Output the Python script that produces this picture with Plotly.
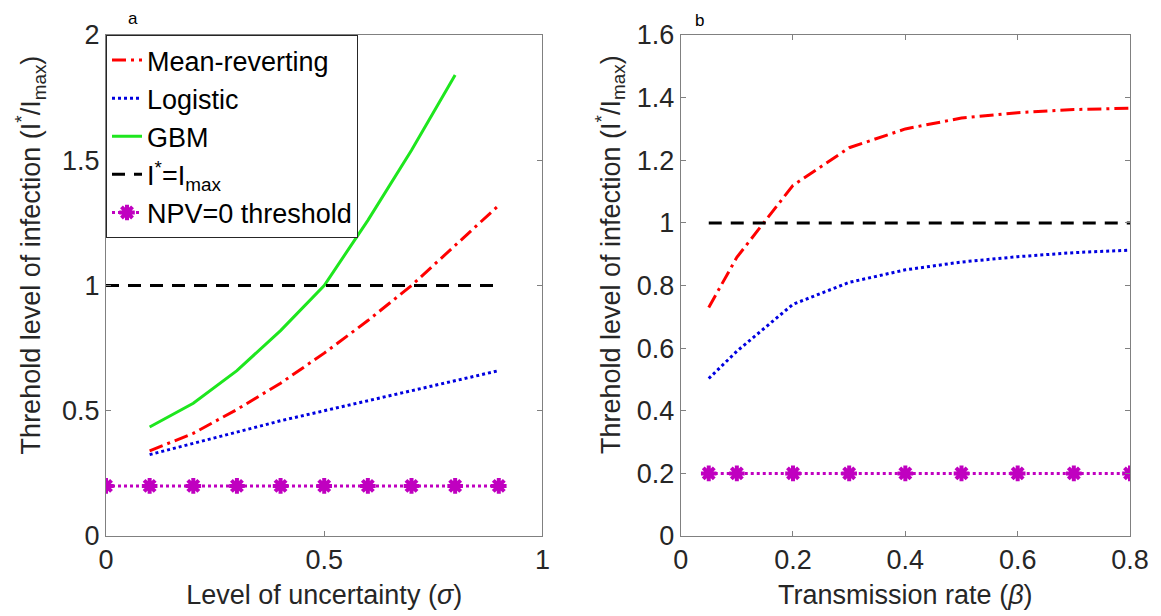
import plotly.graph_objects as go

# ---- data: panel a ----
sigma = [0.1, 0.2, 0.3, 0.4, 0.5, 0.6, 0.7, 0.8, 0.9]
mr_a = [0.34, 0.41, 0.505, 0.61, 0.73, 0.86, 1.0, 1.16, 1.32]
log_a = [0.325, 0.37, 0.415, 0.46, 0.50, 0.54, 0.58, 0.62, 0.66]
sigma_gbm = [0.1, 0.2, 0.3, 0.4, 0.5, 0.6, 0.7, 0.8]
gbm_a = [0.435, 0.53, 0.66, 0.82, 1.0, 1.26, 1.54, 1.84]
sigma_ref = [0, 0.1, 0.2, 0.3, 0.4, 0.5, 0.6, 0.7, 0.8, 0.9]
imax_a = [1] * len(sigma_ref)
npv_a = [0.2] * len(sigma_ref)

# ---- data: panel b ----
beta = [0.05, 0.1, 0.2, 0.3, 0.4, 0.5, 0.6, 0.7, 0.8]
mr_b = [0.73, 0.89, 1.12, 1.24, 1.30, 1.335, 1.352, 1.362, 1.366]
log_b = [0.503, 0.59, 0.74, 0.81, 0.85, 0.875, 0.892, 0.905, 0.913]
imax_b = [1] * len(beta)
npv_b = [0.2] * len(beta)

RED = "#FF0000"
BLUE = "#0000E0"
GREEN = "#1EE61E"
MAG = "#C000C0"
FONT = "Liberation Sans, Arial, sans-serif"
TXT = "#262626"

fig = go.Figure()

def add(x, y, name, color, dash, xa, ya, show, marker=False):
    if marker:
        kw = dict(mode="lines+markers",
                  marker=dict(symbol="asterisk-open", size=13, color=MAG,
                              line=dict(color=MAG, width=4)))
    else:
        kw = dict(mode="lines")
    fig.add_trace(go.Scatter(x=x, y=y, name=name, xaxis=xa, yaxis=ya,
                             line=dict(color=color, width=3, dash=dash),
                             showlegend=show, **kw))

# panel a
add(sigma, mr_a, "Mean-reverting", RED, "14px,5px,3px,5px", "x", "y", True)
add(sigma, log_a, "Logistic", BLUE, "3px,3px", "x", "y", True)
add(sigma_gbm, gbm_a, "GBM", GREEN, "solid", "x", "y", True)
add(sigma_ref, imax_a, "I<sup>*</sup>=I<sub>max</sub>", "black", "13px,9px", "x", "y", True)
add(sigma_ref, npv_a, "NPV=0 threshold", MAG, "3px,3px", "x", "y", True, marker=True)

# panel b
add(beta, mr_b, "Mean-reverting", RED, "14px,5px,3px,5px", "x2", "y2", False)
add(beta, log_b, "Logistic", BLUE, "3px,3px", "x2", "y2", False)
add(beta, imax_b, "I*=Imax", "black", "13px,9px", "x2", "y2", False)
add(beta, npv_b, "NPV=0 threshold", MAG, "3px,3px", "x2", "y2", False, marker=True)

axcommon = dict(showline=True, linecolor="#808080", linewidth=1, mirror="ticks",
                ticks="inside", ticklen=5, tickcolor="#808080", showgrid=False,
                zeroline=False, tickfont=dict(size=27, color=TXT, family=FONT))

ytitle = "Threhold level of infection (I<sup>*</sup>/I<sub>max</sub>)"
tfont = dict(size=27, color=TXT, family=FONT)

fig.update_layout(
    width=1153, height=608,
    margin=dict(l=98, r=18, t=20, b=79),
    plot_bgcolor="white", paper_bgcolor="white",
    font=dict(family=FONT, color=TXT),
    xaxis=dict(domain=[0, 0.4262], range=[0, 1], tickvals=[0, 0.5, 1],
               ticktext=["0", "0.5", "1"],
               title=dict(text="Level of uncertainty (<i>σ</i>)", standoff=10, font=tfont),
               **axcommon),
    yaxis=dict(range=[0, 2], tickvals=[0, 0.5, 1, 1.5, 2],
               ticktext=["0", "0.5", "1", "1.5", "2"], **axcommon),
    xaxis2=dict(domain=[0.5612, 1], range=[0, 0.8], anchor="y2",
                tickvals=[0, 0.2, 0.4, 0.6, 0.8],
                ticktext=["0", "0.2", "0.4", "0.6", "0.8"],
                title=dict(text="Transmission rate (<i>β</i>)", standoff=10, font=tfont),
                **axcommon),
    yaxis2=dict(range=[0, 1.6], anchor="x2",
                tickvals=[0, 0.2, 0.4, 0.6, 0.8, 1, 1.2, 1.4, 1.6],
                ticktext=["0", "0.2", "0.4", "0.6", "0.8", "1", "1.2", "1.4", "1.6"],
                **axcommon),
    legend=dict(x=0, y=1, xanchor="left", yanchor="top",
                bgcolor="white", bordercolor=TXT, borderwidth=1,
                font=dict(size=27, color="black", family=FONT),
                itemwidth=30, tracegroupgap=0),
    annotations=[
        dict(text="a", x=0.026, y=1.0, xref="paper", yref="paper",
             xanchor="center", yanchor="bottom", yshift=5, showarrow=False,
             font=dict(size=17, color="black", family=FONT)),
        dict(text="b", x=0.5796, y=1.0, xref="paper", yref="paper",
             xanchor="center", yanchor="bottom", yshift=3, showarrow=False,
             font=dict(size=17, color="black", family=FONT)),
        dict(text=ytitle, x=-0.0733, y=0.562, xref="paper", yref="paper",
             xanchor="center", yanchor="middle", textangle=-90, showarrow=False,
             font=tfont),
        dict(text=ytitle, x=0.4928, y=0.562, xref="paper", yref="paper",
             xanchor="center", yanchor="middle", textangle=-90, showarrow=False,
             font=tfont),
    ],
)

fig.write_html("out.html")
